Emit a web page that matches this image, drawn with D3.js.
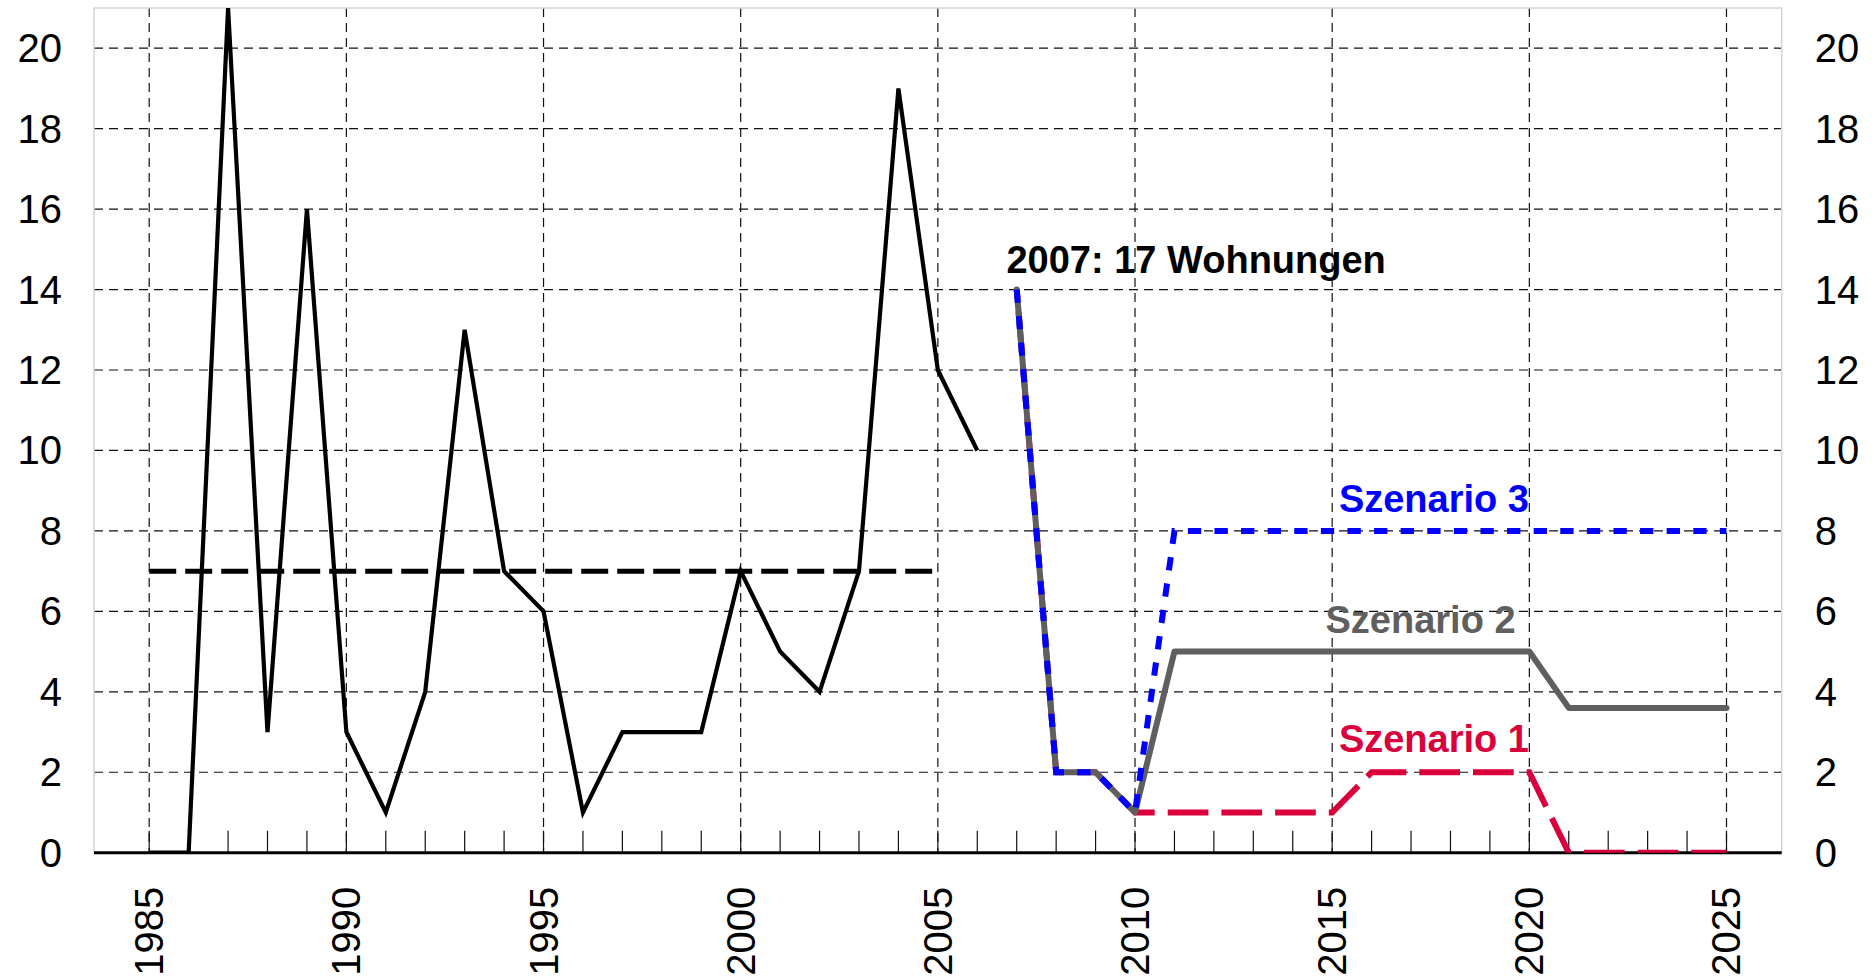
<!DOCTYPE html>
<html>
<head>
<meta charset="utf-8">
<script src="https://cdn.jsdelivr.net/npm/d3@7"></script>
<style>
  html, body { margin: 0; padding: 0; background: #fff; }
  svg { display: block; font-family: "Liberation Sans", Arial, sans-serif; }
</style>
</head>
<body>
<svg id="chart" width="1875" height="979"></svg>
<script>
// ---- data ----
const histYears  = [1985,1986,1987,1988,1989,1990,1991,1992,1993,1994,1995,1996,1997,1998,1999,2000,2001,2002,2003,2004,2005,2006];
const histValues = [0,0,21,3,16,3,1,4,13,7,6,1,3,3,3,7,5,4,7,19,12,10];

const avgYears  = [1985, 2005];
const avgValues = [7, 7];

const scenYears = [2007,2008,2009,2010,2011,2012,2013,2014,2015,2016,2017,2018,2019,2020,2021,2022,2023,2024,2025];
const scen1 = [14,2,2,1,1,1,1,1,1,2,2,2,2,2,0,0,0,0,0];
const scen2 = [14,2,2,1,5,5,5,5,5,5,5,5,5,5,3.6,3.6,3.6,3.6,3.6];
const scen3 = [14,2,2,1,8,8,8,8,8,8,8,8,8,8,8,8,8,8,8];

const xTickYears  = [1985,1990,1995,2000,2005,2010,2015,2020,2025];
const minorYears  = [1985,1986,1987,1988,1989,1990,1991,1992,1993,1994,1995,1996,1997,1998,1999,2000,2001,2002,2003,2004,2005,2006,2007,2008,2009,2010,2011,2012,2013,2014,2015,2016,2017,2018,2019,2020,2021,2022,2023,2024,2025];
const yTicks = [0,2,4,6,8,10,12,14,16,18,20];

const annotText  = ["2007: 17 Wohnungen", "Szenario 3", "Szenario 2", "Szenario 1"];
const annotYear  = [2006.74, 2015.17, 2014.83, 2015.17];
const annotValue = [14.41, 8.48, 5.455, 2.51];
const annotColor = ["#000000", "#0000ff", "#5f5f5f", "#d9003b"];

// ---- layout ----
const L = 94, R = 1781.7, T = 8, B = 852.7;
const x = d3.scaleLinear().domain([1983.6, 2026.4]).range([L, R]);
const y = d3.scaleLinear().domain([0, 21]).range([B, T]);

const svg = d3.select("#chart");
svg.append("defs").append("clipPath").attr("id", "plotclip")
  .append("rect").attr("x", L).attr("y", T).attr("width", R - L).attr("height", B - T);

// horizontal gridlines
svg.append("g").selectAll("line").data(yTicks.filter(d => d > 0)).join("line")
  .attr("x1", L).attr("x2", R).attr("y1", d => y(d)).attr("y2", d => y(d))
  .attr("stroke", "#111").attr("stroke-width", 1.2).attr("stroke-dasharray", "9,6");

// vertical gridlines
svg.append("g").selectAll("line").data(xTickYears).join("line")
  .attr("x1", d => x(d)).attr("x2", d => x(d)).attr("y1", T).attr("y2", B)
  .attr("stroke", "#111").attr("stroke-width", 1.2).attr("stroke-dasharray", "9,6");

// minor ticks (inside)
svg.append("g").selectAll("line").data(minorYears).join("line")
  .attr("x1", d => x(d)).attr("x2", d => x(d)).attr("y1", B - 22).attr("y2", B)
  .attr("stroke", "#111").attr("stroke-width", 1.2);

// plot border
svg.append("path")
  .attr("d", `M${L},${B} L${L},${T} L${R},${T} L${R},${B}`)
  .attr("fill", "none").attr("stroke", "#d4d4d4").attr("stroke-width", 1.5);

// x axis line
svg.append("line").attr("x1", L).attr("x2", R).attr("y1", B).attr("y2", B)
  .attr("stroke", "#000").attr("stroke-width", 3);

// axis labels
svg.append("g").selectAll("text").data(yTicks).join("text")
  .attr("x", L - 32).attr("y", d => y(d)).attr("dy", "0.35em")
  .attr("text-anchor", "end").attr("font-size", 40).attr("fill", "#000")
  .text(d => d);
svg.append("g").selectAll("text").data(yTicks).join("text")
  .attr("x", R + 33).attr("y", d => y(d)).attr("dy", "0.35em")
  .attr("text-anchor", "start").attr("font-size", 40).attr("fill", "#000")
  .text(d => d);
svg.append("g").selectAll("text").data(xTickYears).join("text")
  .attr("transform", d => `translate(${x(d)},${B + 34}) rotate(-90)`)
  .attr("dy", "0.35em").attr("text-anchor", "end")
  .attr("font-size", 40).attr("fill", "#000")
  .text(d => d);

// ---- series ----
const line = d3.line().x(d => x(d[0])).y(d => y(d[1]));
const plot = svg.append("g").attr("clip-path", "url(#plotclip)");

// average dashed line
plot.append("path").datum(avgYears.map((d, i) => [d, avgValues[i]]))
  .attr("d", line).attr("fill", "none").attr("stroke", "#000")
  .attr("stroke-width", 5).attr("stroke-dasharray", "27,9");

// historical line
plot.append("path").datum(histYears.map((d, i) => [d, histValues[i]]))
  .attr("d", line).attr("fill", "none").attr("stroke", "#000")
  .attr("stroke-width", 4.2).attr("stroke-linejoin", "miter").attr("stroke-miterlimit", 4);

// scenario 1 (red dashed) - phase so the dash pattern lines up at 2010
const s1pts = scenYears.map((d, i) => [d, scen1[i]]);
const tmp = plot.append("path").datum(s1pts.slice(0, 4)).attr("d", line);
const L0 = tmp.node().getTotalLength();
tmp.remove();
const period = 53.7;
const off = ((21 - L0) % period + period) % period;
plot.append("path").datum(s1pts)
  .attr("d", line).attr("fill", "none").attr("stroke", "#d9003b")
  .attr("stroke-width", 6).attr("stroke-dasharray", "40.7,13").attr("stroke-dashoffset", off)
  .attr("stroke-linejoin", "miter");

// scenario 2 (gray solid)
plot.append("path").datum(scenYears.map((d, i) => [d, scen2[i]]))
  .attr("d", line).attr("fill", "none").attr("stroke", "#5f5f5f")
  .attr("stroke-width", 6).attr("stroke-linejoin", "round").attr("stroke-linecap", "round");

// scenario 3 (blue dotted)
plot.append("path").datum(scenYears.map((d, i) => [d, scen3[i]]))
  .attr("d", line).attr("fill", "none").attr("stroke", "#0000ff")
  .attr("stroke-width", 6).attr("stroke-dasharray", "13.3,13.3");

// annotations
svg.append("g").selectAll("text").data(annotText).join("text")
  .attr("x", (d, i) => x(annotYear[i])).attr("y", (d, i) => y(annotValue[i]))
  .attr("font-size", 38).attr("font-weight", "bold")
  .attr("fill", (d, i) => annotColor[i])
  .text(d => d);
</script>
</body>
</html>
